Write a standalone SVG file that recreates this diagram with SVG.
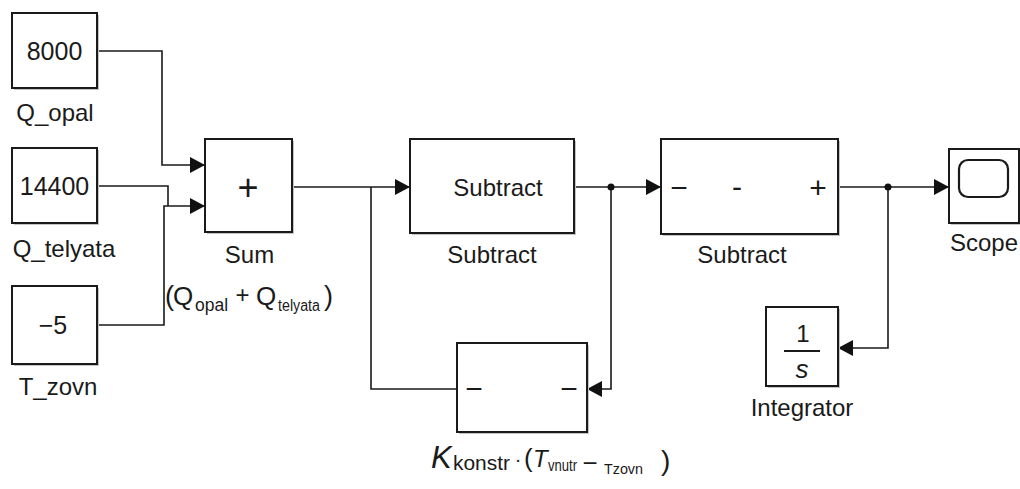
<svg xmlns="http://www.w3.org/2000/svg" width="1020" height="489" viewBox="0 0 1020 489">
  <defs>
    <marker id="arrow" markerUnits="userSpaceOnUse" markerWidth="16" markerHeight="16" refX="15" refY="8" orient="auto">
      <path d="M0,0 L15,8 L0,16 z" fill="#111"/>
    </marker>
  </defs>
  <style>
    .blk { fill: #fff; stroke: #1a1a1a; stroke-width: 2; }
    .shd { fill: #c4c4c4; stroke: none; }
    .wire { fill: none; stroke: #1a1a1a; stroke-width: 1.6; }
    .arr { marker-end: url(#arrow); }
    .dot { fill: #111; }
    text { font-family: "Liberation Sans", Arial, sans-serif; fill: #1a1a1a; }
    .lbl { font-size: 24px; text-anchor: middle; }
    .val { font-size: 25px; text-anchor: middle; }
    .sign { font-size: 30px; text-anchor: middle; }
  </style>
  <rect width="1020" height="489" fill="#fff"/>

  <!-- signal lines -->
  <g id="connectors">
    <path class="wire arr" d="M97,51 H162 V165 H205"/>
    <path class="wire" d="M97,186 H168 V206"/>
    <path class="wire arr" d="M97,325 H164 V206 H205"/>
    <path class="wire arr" d="M292,187 H410"/>
    <path class="wire" d="M371,187 V389 H457"/>
    <path class="wire arr" d="M574,187 H661"/>
    <path class="wire arr" d="M611,187 V389 H587"/>
    <path class="wire arr" d="M838,187 H949"/>
    <path class="wire arr" d="M888,187 V348 H838"/>
    <circle class="dot" cx="611" cy="187" r="3.5"/>
    <circle class="dot" cx="888" cy="187" r="3.5"/>
  </g>

  <g id="q_opal">
    <rect class="shd" x="14" y="15" width="85" height="75"/>
    <rect class="blk" x="12" y="13" width="85" height="75"/>
    <text class="val" x="54.5" y="60">8000</text>
    <text class="lbl" x="55" y="121">Q_opal</text>
  </g>

  <g id="q_telyata">
    <rect class="shd" x="14" y="150" width="85" height="75"/>
    <rect class="blk" x="12" y="148" width="85" height="75"/>
    <text class="val" x="54.5" y="195">14400</text>
    <text class="lbl" x="64" y="257">Q_telyata</text>
  </g>

  <g id="t_zovn">
    <rect class="shd" x="14" y="288" width="85" height="78"/>
    <rect class="blk" x="12" y="286" width="85" height="78"/>
    <text class="val" x="53" y="334">−5</text>
    <text class="lbl" x="58" y="395">T_zovn</text>
  </g>

  <g id="sum">
    <rect class="shd" x="207" y="141" width="87" height="93"/>
    <rect class="blk" x="205" y="139" width="87" height="93"/>
    <text x="248" y="200" style="font-size:36px;text-anchor:middle">+</text>
    <text class="lbl" x="249.5" y="263">Sum</text>
    <text x="165" y="305" style="font-size:27px">(</text>
    <text x="173" y="305" style="font-size:26px">Q</text>
    <text x="195" y="311" style="font-size:17.5px">opal</text>
    <text x="242.5" y="303" style="font-size:24px;text-anchor:middle">+</text>
    <text x="256" y="305" style="font-size:26px">Q</text>
    <text x="278" y="311" style="font-size:16px" textLength="42" lengthAdjust="spacingAndGlyphs">telyata</text>
    <text x="324" y="305" style="font-size:27px">)</text>
  </g>

  <g id="subtract1">
    <rect class="shd" x="412" y="141" width="164" height="94"/>
    <rect class="blk" x="410" y="139" width="164" height="94"/>
    <text class="lbl" x="498" y="196">Subtract</text>
    <text class="lbl" x="492" y="263">Subtract</text>
  </g>

  <g id="subtract2">
    <rect class="shd" x="663" y="141" width="177" height="95"/>
    <rect class="blk" x="661" y="139" width="177" height="95"/>
    <text class="sign" x="679" y="198">−</text>
    <text class="sign" x="737" y="197">-</text>
    <text class="sign" x="818" y="198">+</text>
    <text class="lbl" x="742" y="263">Subtract</text>
  </g>

  <g id="konstr">
    <rect class="shd" x="459" y="345" width="130" height="89"/>
    <rect class="blk" x="457" y="343" width="130" height="89"/>
    <text class="sign" x="474" y="399">−</text>
    <text class="sign" x="569" y="399">−</text>
    <text x="431" y="468" style="font-size:31px;font-style:italic">K</text>
    <text x="453" y="470" style="font-size:21px" textLength="57" lengthAdjust="spacingAndGlyphs">konstr</text>
    <text x="518" y="466" style="font-size:20px;text-anchor:middle">·</text>
    <text x="524" y="467" style="font-size:26px">(</text>
    <text x="533" y="467" style="font-size:24px;font-style:italic">T</text>
    <text x="548" y="471" style="font-size:16px" textLength="29" lengthAdjust="spacingAndGlyphs">vnutr</text>
    <text x="590" y="472" style="font-size:26px;text-anchor:middle">−</text>
    <text x="604" y="474" style="font-size:14.5px" textLength="39" lengthAdjust="spacingAndGlyphs">Tzovn</text>
    <text x="661" y="470" style="font-size:28px">)</text>
  </g>

  <g id="scope">
    <rect class="shd" x="951" y="151" width="70" height="74"/>
    <rect class="blk" x="949" y="149" width="70" height="74"/>
    <rect x="959" y="160" width="49" height="37" rx="9" ry="9" fill="none" stroke="#1a1a1a" stroke-width="2.2"/>
    <text class="lbl" x="984" y="251">Scope</text>
  </g>

  <g id="integrator">
    <rect class="shd" x="768" y="309" width="72" height="79"/>
    <rect class="blk" x="766" y="307" width="72" height="79"/>
    <text x="803" y="342" style="font-size:24px;text-anchor:middle">1</text>
    <line x1="784" y1="351" x2="820" y2="351" stroke="#1a1a1a" stroke-width="2"/>
    <text x="802" y="378" style="font-size:26px;font-style:italic;text-anchor:middle">s</text>
    <text class="lbl" x="802" y="416">Integrator</text>
  </g>
</svg>
